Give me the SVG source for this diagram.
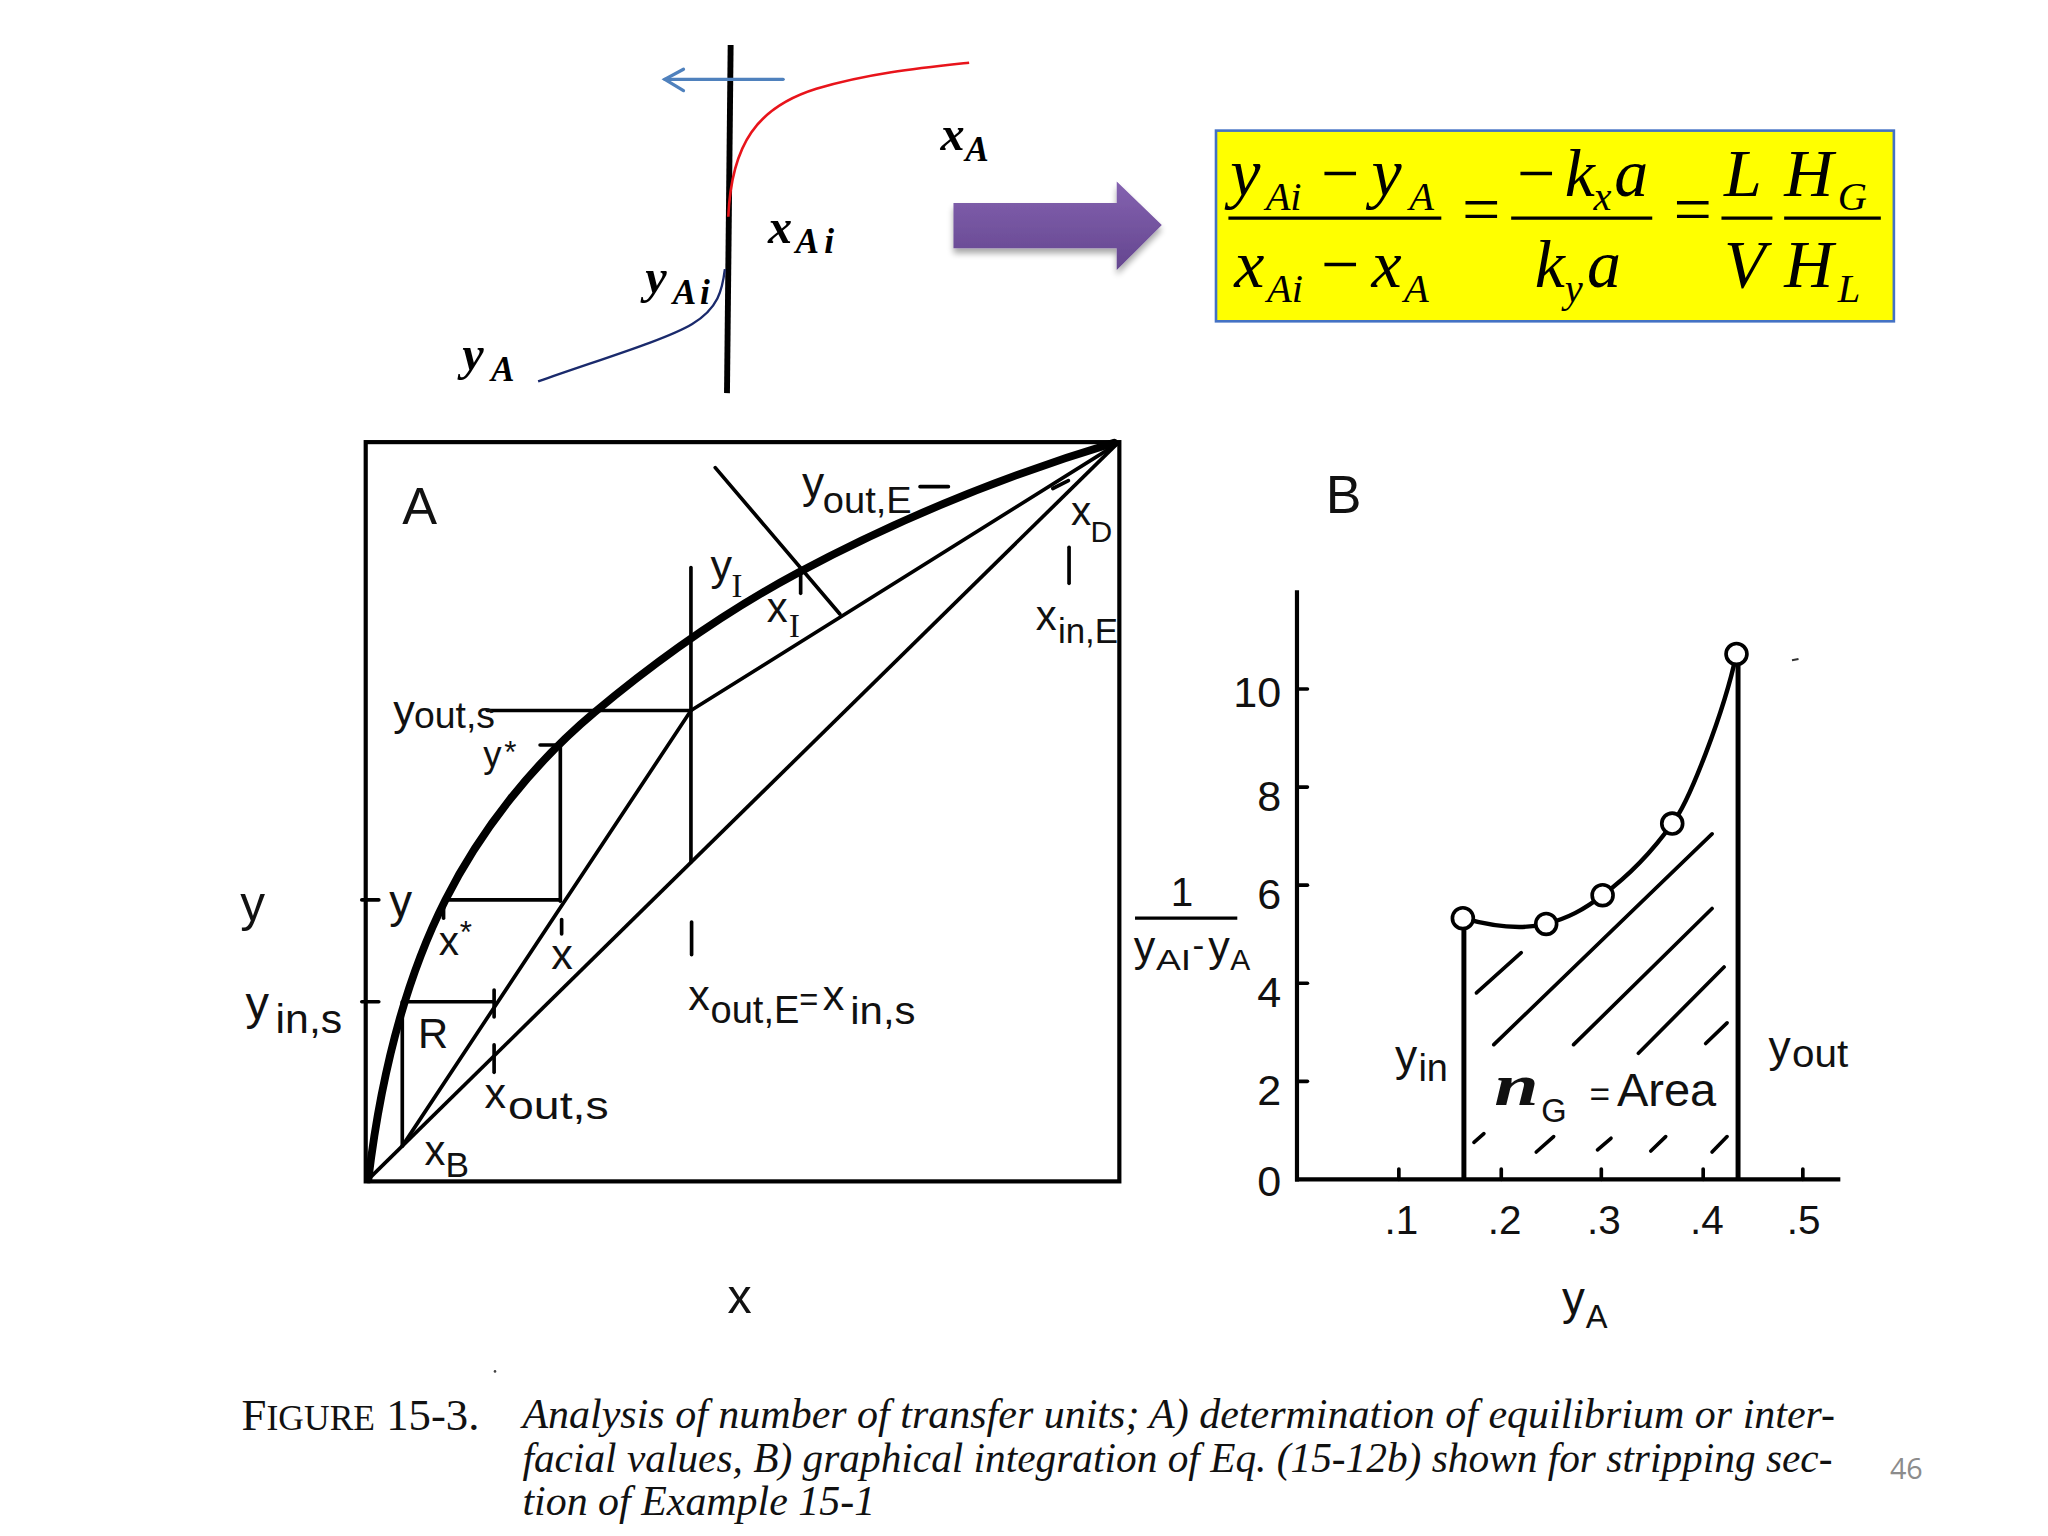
<svg xmlns="http://www.w3.org/2000/svg" width="2048" height="1536" viewBox="0 0 2048 1536">
<defs>
<linearGradient id="pg" x1="0" y1="0" x2="0" y2="1">
<stop offset="0" stop-color="#8462b0"/>
<stop offset="1" stop-color="#64468f"/>
</linearGradient>
<filter id="sh" x="-10%" y="-20%" width="130%" height="160%">
<feGaussianBlur in="SourceAlpha" stdDeviation="2.5"/>
<feOffset dx="0" dy="4" result="b"/>
<feComponentTransfer><feFuncA type="linear" slope="0.35"/></feComponentTransfer>
<feMerge><feMergeNode/><feMergeNode in="SourceGraphic"/></feMerge>
</filter>
<style>
.sk{font-family:"Liberation Serif","Times New Roman",serif;font-style:italic;font-weight:bold;fill:#000}
.eq{font-family:"Liberation Serif","Times New Roman",serif;font-style:italic;fill:#000}
.lb{font-family:"Liberation Sans",Arial,sans-serif;fill:#111}
.sf{font-family:"Liberation Serif","Times New Roman",serif;fill:#111}
.cap{font-family:"Liberation Serif","Times New Roman",serif;fill:#111}
.th{stroke:#000;stroke-width:2.8;fill:none;stroke-linecap:round}
.tk{stroke:#000;stroke-width:6;fill:none;stroke-linecap:round}
.ax{stroke:#000;stroke-width:3.2;fill:none}
.fl{stroke:#000;stroke-width:2.5}
</style>
</defs>
<rect width="2048" height="1536" fill="#fff"/>
<g transform="scale(1.306122)">

<g id="sketch">
<line x1="559.4" y1="34.5" x2="556.6" y2="301" stroke="#000" stroke-width="4.5"/>
<path d="M557.6,166 C560,110 580,82 625,68 C665,56 705,52 742,48" fill="none" stroke="#e8141b" stroke-width="2"/>
<path d="M412,292 C460,275 510,260 530,248 C550,236 553,222 555,206" fill="none" stroke="#1a2a6c" stroke-width="1.8"/>
<g id="flowArrow" stroke="#4f81bd" stroke-width="2.5" fill="none" stroke-linecap="round">
<line x1="599.6" y1="60.7" x2="509" y2="60.7"/>
<polyline points="523.3,53 509,60.7 523.3,69.4"/>
</g>
<text class="sk" x="720" y="115" font-size="37">x</text>
<text class="sk" x="739" y="123" font-size="27">A</text>
<text class="sk" x="588" y="186" font-size="37">x</text>
<text class="sk" x="609" y="194" font-size="27">A</text>
<text class="sk" x="631" y="194" font-size="27">i</text>
<text class="sk" x="494" y="224" font-size="37">y</text>
<text class="sk" x="515" y="233" font-size="27">A</text>
<text class="sk" x="536" y="233" font-size="27">i</text>
<text class="sk" x="354" y="283" font-size="37">y</text>
<text class="sk" x="376" y="292" font-size="27">A</text>
</g>

<g id="bigArrow" filter="url(#sh)">
<polygon points="730,155.5 855,155.5 855,139 889.5,172.3 855,206.8 855,190 730,190" fill="url(#pg)"/>
</g>

<g id="equation">
<rect x="931" y="100" width="519" height="146" fill="#ffff00" stroke="#4472c4" stroke-width="2"/>
<g font-size="52">
<text class="eq" x="942" y="150">y</text>
<text class="eq" x="969" y="161" font-size="31">Ai</text>
<text class="eq" x="1008" y="150" font-style="normal">−</text>
<text class="eq" x="1050" y="150">y</text>
<text class="eq" x="1079" y="161" font-size="31">A</text>
<line class="fl" x1="940.5" y1="167" x2="1103.5" y2="167"/>
<text class="eq" x="945" y="220">x</text>
<text class="eq" x="970" y="231" font-size="31">Ai</text>
<text class="eq" x="1008" y="220" font-style="normal">−</text>
<text class="eq" x="1050" y="220">x</text>
<text class="eq" x="1075" y="231" font-size="31">A</text>
<text class="eq" x="1116" y="178" font-style="normal">=</text>
<text class="eq" x="1158" y="150" font-style="normal">−</text>
<text class="eq" x="1198" y="150">k</text>
<text class="eq" x="1220" y="161" font-size="31">x</text>
<text class="eq" x="1236" y="150">a</text>
<line class="fl" x1="1157" y1="167" x2="1265" y2="167"/>
<text class="eq" x="1175" y="220">k</text>
<text class="eq" x="1198" y="231" font-size="31">y</text>
<text class="eq" x="1215" y="220">a</text>
<text class="eq" x="1278" y="178" font-style="normal">=</text>
<text class="eq" x="1320" y="150">L</text>
<line class="fl" x1="1318" y1="167" x2="1357" y2="167"/>
<text class="eq" x="1320" y="220">V</text>
<text class="eq" x="1366" y="150">H</text>
<text class="eq" x="1407" y="161" font-size="31">G</text>
<line class="fl" x1="1366" y1="167" x2="1440" y2="167"/>
<text class="eq" x="1366" y="220">H</text>
<text class="eq" x="1407" y="231" font-size="31">L</text>
</g>
</g>

<g id="chartA">
<rect x="280" y="338.5" width="577" height="566" class="ax"/>
<path class="tk" d="M282,903 C290.9,829.5 307.6,755 341,689 C368.6,634.6 408.3,584.7 455,545.5 C503.3,505.1 555.4,468.2 611,438.5 C687.7,397.5 769.7,364 853,339"/>
<line class="th" x1="282" y1="903" x2="855" y2="340"/>
<line class="th" x1="308" y1="877.5" x2="529" y2="544"/>
<line class="th" x1="529" y1="544" x2="855" y2="340"/>
<line class="th" x1="529" y1="434.5" x2="529" y2="660"/>
<line class="th" x1="529.5" y1="706" x2="529.5" y2="731"/>
<line class="th" x1="373" y1="544" x2="529" y2="544"/>
<line class="th" x1="429" y1="570.4" x2="429" y2="690"/>
<line class="th" x1="413.5" y1="570.4" x2="429" y2="570.4"/>
<line class="th" x1="341" y1="689" x2="429" y2="689"/>
<line class="th" x1="277" y1="689" x2="290" y2="689"/>
<line class="th" x1="310" y1="767" x2="378.3" y2="767"/>
<line class="th" x1="277" y1="767" x2="290" y2="767"/>
<line class="th" x1="308" y1="767" x2="308" y2="877"/>
<line class="th" x1="378.3" y1="758" x2="378.3" y2="778.6"/>
<line class="th" x1="378.3" y1="800" x2="378.3" y2="821"/>
<line class="th" x1="430" y1="704" x2="430" y2="715"/>
<line class="th" x1="339.6" y1="689.9" x2="339.6" y2="703"/>
<line class="th" x1="547.6" y1="358" x2="643" y2="470.1"/>
<line class="th" x1="613" y1="438" x2="613" y2="454.3"/>
<line class="th" x1="704.4" y1="372.6" x2="726.1" y2="372.6"/>
<line class="th" x1="818.5" y1="419" x2="818.5" y2="446.6"/>
<line class="th" x1="806" y1="374" x2="818" y2="368"/>
<text class="lb" x="308" y="401" font-size="40">A</text>
<text class="lb" x="614" y="381" font-size="34">y</text>
<text class="lb" x="630" y="393" font-size="28" textLength="68" lengthAdjust="spacingAndGlyphs">out,E</text>
<text class="lb" x="544" y="444" font-size="33">y</text>
<text class="sf" x="560" y="457" font-size="25">I</text>
<text class="lb" x="587" y="476" font-size="32">x</text>
<text class="sf" x="604" y="488" font-size="25">I</text>
<text class="lb" x="820" y="402" font-size="31">x</text>
<text class="lb" x="835" y="415" font-size="23">D</text>
<text class="lb" x="793" y="482" font-size="32">x</text>
<text class="lb" x="810" y="492" font-size="27" textLength="46" lengthAdjust="spacingAndGlyphs">in,E</text>
<text class="lb" x="301" y="555" font-size="33">y</text>
<text class="lb" x="317" y="557" font-size="28" textLength="62" lengthAdjust="spacingAndGlyphs">out,s</text>
<text class="lb" x="370" y="587" font-size="28">y</text>
<text class="lb" x="386" y="584" font-size="24">*</text>
<text class="lb" x="298" y="702" font-size="35">y</text>
<text class="lb" x="336" y="731" font-size="31">x</text>
<text class="lb" x="352" y="722" font-size="24">*</text>
<text class="lb" x="422" y="742" font-size="33">x</text>
<text class="lb" x="527" y="773" font-size="33">x</text>
<text class="lb" x="544" y="783" font-size="29" textLength="68" lengthAdjust="spacingAndGlyphs">out,E</text>
<text class="lb" x="612" y="774" font-size="25">=</text>
<text class="lb" x="630" y="773" font-size="33">x</text>
<text class="lb" x="651" y="784" font-size="29" textLength="50" lengthAdjust="spacingAndGlyphs">in,s</text>
<text class="lb" x="320" y="802" font-size="32">R</text>
<text class="lb" x="371" y="848" font-size="33">x</text>
<text class="lb" x="389" y="857" font-size="30" textLength="77" lengthAdjust="spacingAndGlyphs">out,s</text>
<text class="lb" x="325" y="892" font-size="32">x</text>
<text class="lb" x="341" y="901" font-size="27">B</text>
</g>

<g id="axisLabelsA">
<text class="lb" x="184" y="705" font-size="38">y</text>
<text class="lb" x="188" y="780" font-size="36">y</text>
<text class="lb" x="211" y="791" font-size="31" textLength="51" lengthAdjust="spacingAndGlyphs">in,s</text>
<text class="lb" x="557" y="1005" font-size="37">x</text>
</g>

<g id="chartB">
<line class="ax" x1="993" y1="452" x2="993" y2="904.5" stroke-width="3.5"/>
<line class="ax" x1="991.5" y1="903" x2="1409" y2="903" stroke-width="3.5"/>
<g class="th">
<line x1="993" y1="527.5" x2="1001" y2="527.5"/>
<line x1="993" y1="602.6" x2="1001" y2="602.6"/>
<line x1="993" y1="677.7" x2="1001" y2="677.7"/>
<line x1="993" y1="752.8" x2="1001" y2="752.8"/>
<line x1="993" y1="827.9" x2="1001" y2="827.9"/>
<line x1="1071" y1="895" x2="1071" y2="903"/>
<line x1="1149.4" y1="895" x2="1149.4" y2="903"/>
<line x1="1226" y1="895" x2="1226" y2="903"/>
<line x1="1304" y1="895" x2="1304" y2="903"/>
<line x1="1380.3" y1="895" x2="1380.3" y2="903"/>
</g>
<line x1="1120.8" y1="708" x2="1120.8" y2="903" stroke="#000" stroke-width="3.8"/>
<line x1="1330.7" y1="506" x2="1330.7" y2="903" stroke="#000" stroke-width="3.8"/>
<g class="th" stroke-width="2.2">
<line x1="1130.4" y1="760.2" x2="1164.7" y2="729.4"/>
<line x1="1143.7" y1="799.8" x2="1310.8" y2="638.4"/>
<line x1="1204.8" y1="799.8" x2="1310.8" y2="695.6"/>
<line x1="1254.4" y1="806.4" x2="1320" y2="740.4"/>
<line x1="1305.9" y1="798.9" x2="1322.3" y2="783.1"/>
<line x1="1128.5" y1="874.6" x2="1136.1" y2="868"/>
<line x1="1176.2" y1="882" x2="1189.5" y2="870.2"/>
<line x1="1223.1" y1="880.3" x2="1233.4" y2="871.5"/>
<line x1="1263.9" y1="881.2" x2="1275.3" y2="870.2"/>
<line x1="1310.8" y1="882" x2="1322.3" y2="870.2"/>
</g>
<path d="M1120,703 C1145,710 1165,712 1183.8,707.4 C1200,703 1212,697 1227,685.4 C1245,672 1265,652 1280.3,630.5 C1293,615 1320,545 1329.5,500.7" fill="none" stroke="#000" stroke-width="3.4"/>
<g fill="#fff" stroke="#000" stroke-width="2.8">
<circle cx="1120" cy="703" r="8"/>
<circle cx="1183.8" cy="707.4" r="8"/>
<circle cx="1227" cy="685.4" r="8"/>
<circle cx="1280.3" cy="630.5" r="8"/>
<circle cx="1329.5" cy="500.7" r="8"/>
</g>
<line x1="1372" y1="505.5" x2="1377" y2="504.5" stroke="#333" stroke-width="1.5"/>
<text class="lb" x="1015" y="393" font-size="41">B</text>
<g class="lb" font-size="33" text-anchor="end">
<text x="981" y="541">10</text>
<text x="981" y="621">8</text>
<text x="981" y="696">6</text>
<text x="981" y="771">4</text>
<text x="981" y="846">2</text>
<text x="981" y="916">0</text>
</g>
<g class="lb" font-size="31">
<text x="1060" y="945">.1</text>
<text x="1139" y="945">.2</text>
<text x="1215" y="945">.3</text>
<text x="1294" y="945">.4</text>
<text x="1368" y="945">.5</text>
</g>
<text class="lb" x="905" y="694" font-size="31" text-anchor="middle">1</text>
<line x1="869" y1="703" x2="947.3" y2="703" stroke="#000" stroke-width="2.5"/>
<text class="lb" x="868" y="736" font-size="33">y</text>
<text class="lb" x="885" y="743" font-size="23" textLength="27" lengthAdjust="spacingAndGlyphs">AI</text>
<text class="lb" x="913" y="733" font-size="27">-</text>
<text class="lb" x="925" y="736" font-size="33">y</text>
<text class="lb" x="942" y="743" font-size="23">A</text>
<text class="lb" x="1068" y="820" font-size="34">y</text>
<text class="lb" x="1086" y="828" font-size="29">in</text>
<text class="lb" x="1354" y="813" font-size="34">y</text>
<text class="lb" x="1372" y="817" font-size="29" textLength="43" lengthAdjust="spacingAndGlyphs">out</text>
<text class="sf" x="1144" y="846" font-size="46" font-style="italic" font-weight="bold" textLength="34" lengthAdjust="spacingAndGlyphs">n</text>
<text class="lb" x="1180" y="859" font-size="25">G</text>
<text class="lb" x="1217" y="847" font-size="27">=</text>
<text class="lb" x="1238" y="847" font-size="36" textLength="76" lengthAdjust="spacingAndGlyphs">Area</text>
<text class="lb" x="1196" y="1006" font-size="35">y</text>
<text class="lb" x="1214" y="1017" font-size="25">A</text>
</g>

<g id="caption">
<circle cx="379" cy="1050" r="1" fill="#444"/>
<text class="cap" x="185" y="1095" font-size="34" textLength="182" lengthAdjust="spacingAndGlyphs">F<tspan font-size="27">IGURE</tspan> 15-3.</text>
<g class="cap" font-style="italic" font-size="32">
<text x="400" y="1093" textLength="1005" lengthAdjust="spacingAndGlyphs">Analysis of number of transfer units; A) determination of equilibrium or inter-</text>
<text x="400" y="1127" textLength="1003" lengthAdjust="spacingAndGlyphs">facial values, B) graphical integration of Eq. (15-12b) shown for stripping sec-</text>
<text x="400" y="1160" textLength="270" lengthAdjust="spacingAndGlyphs">tion of Example 15-1</text>
</g>
<text x="1447" y="1132" font-family="'Open Sans','Liberation Sans',sans-serif" font-size="22" fill="#8c8c8c">46</text>
</g>

</g>
</svg>
